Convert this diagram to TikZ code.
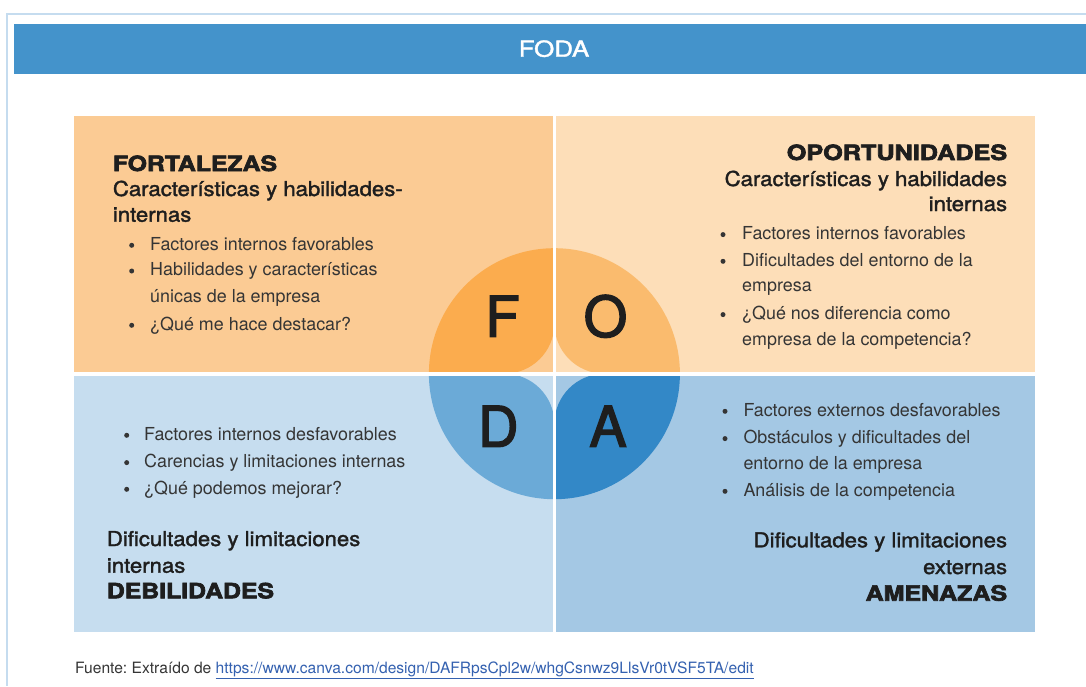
\documentclass[tikz,border=0pt]{standalone}
\usepackage{fontspec}
\usepackage{graphicx}
\setmainfont{TeX Gyre Heros}
\newfontfamily\hvblack{TeX Gyre Heros}[BoldFeatures={FakeBold=3}]
\newfontfamily\hvmed{TeX Gyre Heros}[FakeBold=1.6]
\newfontfamily\hvbig{TeX Gyre Heros}[FakeBold=2.5]
\definecolor{framec}{HTML}{C5DCEF}
\definecolor{hdr}{HTML}{4493CB}
\definecolor{tlbg}{HTML}{FBCB94}
\definecolor{fpet}{HTML}{FBAC4E}
\definecolor{trbg}{HTML}{FDDEB8}
\definecolor{opet}{HTML}{FABB6E}
\definecolor{blbg}{HTML}{C6DDEF}
\definecolor{dpet}{HTML}{6BAAD7}
\definecolor{brbg}{HTML}{A4C8E4}
\definecolor{apet}{HTML}{3388C7}
\definecolor{ink}{HTML}{1E1E1E}
\definecolor{txt}{HTML}{353535}
\definecolor{linkc}{HTML}{3461B0}
\frenchspacing
\begin{document}
\begin{tikzpicture}[x=1pt,y=-1pt,
  hd/.style={inner sep=0pt, text=ink, font=\hvblack\bfseries\fontsize{21}{21}\selectfont},
  sub/.style={inner sep=0pt, text=ink, font=\hvmed\fontsize{20.5}{20.5}\selectfont},
  item/.style={inner sep=0pt, text=txt, anchor=base west, font=\fontsize{17.9}{17.9}\selectfont},
  big/.style={inner sep=0pt, text=ink, anchor=base, font=\hvbig\fontsize{56}{56}\selectfont},
  dot/.style={fill=txt}]
\useasboundingbox (0,0) rectangle (1086,686);
\fill[white] (0,0) rectangle (1086,686);
% frame
\draw[framec, line width=2pt] (1086,14.3) -- (7,14.3) -- (7,686);
% header
\fill[hdr] (14,24) rectangle (1086,73.7);
\node[inner sep=0pt, anchor=base, text=white, font=\hvmed\fontsize{22}{22}\selectfont] (title) at (554,56.7) {\scalebox{1.18}[1]{FODA}};
% quadrants
\fill[tlbg] (74,116) rectangle (552.7,371.7);
\fill[trbg] (556,116) rectangle (1035,371.7);
\fill[blbg] (74,375.7) rectangle (552.7,631.7);
\fill[brbg] (556,375.7) rectangle (1035,631.7);
% petals
\def\cx{554.4}\def\cy{373.7}\def\R{125.5}\def\a{50}\def\k{27.6}
\fill[fpet] (\cx-\R,\cy) arc[start angle=180,end angle=270,radius=\R] -- (\cx,\cy-\a)
  .. controls (\cx,\cy-\a+\k) and (\cx-\a+\k,\cy) .. (\cx-\a,\cy) -- cycle;
\fill[opet] (\cx,\cy-\R) arc[start angle=270,end angle=360,radius=\R] -- (\cx+\a,\cy)
  .. controls (\cx+\a-\k,\cy) and (\cx,\cy-\a+\k) .. (\cx,\cy-\a) -- cycle;
\fill[apet] (\cx+\R,\cy) arc[start angle=0,end angle=90,radius=\R] -- (\cx,\cy+\a)
  .. controls (\cx,\cy+\a-\k) and (\cx+\a-\k,\cy) .. (\cx+\a,\cy) -- cycle;
\fill[dpet] (\cx,\cy+\R) arc[start angle=90,end angle=180,radius=\R] -- (\cx-\a,\cy)
  .. controls (\cx-\a+\k,\cy) and (\cx,\cy+\a-\k) .. (\cx,\cy+\a) -- cycle;
% white gaps
\fill[white] (552.7,110) rectangle (556,640);
\fill[white] (70,371.7) rectangle (1040,375.7);
% letters
\node[big] (lF) at (502.5,336.7) {F};
\node[big] (lO) at (605.5,336.7) {O};
\node[big] (lD) at (498.3,446.7) {D};
\node[big] (lA) at (608,446.7) {A};
% ---- top left
\node[hd, anchor=base west] (tlh) at (112.7,171) {\scalebox{1.18}[1]{FORTALEZAS}};
\node[sub, anchor=base west] (tls1) at (112.7,196) {\scalebox{1.08}[1]{Características y habilidades-}};
\node[sub, anchor=base west] (tls2) at (112.7,221.7) {\scalebox{1.08}[1]{internas}};
\fill[dot] (131.7,245.3) circle (2.5);
\node[item] (tli1) at (150,250) {Factores internos favorables};
\fill[dot] (131.7,271) circle (2.5);
\node[item] (tli2) at (150,275.7) {Habilidades y características};
\node[item] (tli3) at (150,302.7) {únicas de la empresa};
\fill[dot] (131.7,325.3) circle (2.5);
\node[item] (tli4) at (150,330) {¿Qué me hace destacar?};
% ---- top right
\node[hd, anchor=base east] (trh) at (1007.3,160) {\scalebox{1.2}[1]{OPORTUNIDADES}};
\node[sub, anchor=base east] (trs1) at (1007.3,186) {\scalebox{1.08}[1]{Características y habilidades}};
\node[sub, anchor=base east] (trs2) at (1007.3,211) {\scalebox{1.08}[1]{internas}};
\fill[dot] (723,234.6) circle (2.5);
\node[item] (tri1) at (742,239.3) {Factores internos favorables};
\fill[dot] (723,261.3) circle (2.5);
\node[item] (tri2) at (742,266) {Dificultades del entorno de la};
\node[item] (tri3) at (742,291.7) {empresa};
\fill[dot] (723,314.6) circle (2.5);
\node[item] (tri4) at (742,319.3) {¿Qué nos diferencia como};
\node[item] (tri5) at (742,345) {empresa de la competencia?};
% ---- bottom left
\fill[dot] (126.7,435.3) circle (2.5);
\node[item] (bli1) at (144,440) {Factores internos desfavorables};
\fill[dot] (126.7,462.6) circle (2.5);
\node[item] (bli2) at (144,467.3) {Carencias y limitaciones internas};
\fill[dot] (126.7,489.3) circle (2.5);
\node[item] (bli3) at (144,494) {¿Qué podemos mejorar?};
\node[sub, anchor=base west] (bls1) at (106.7,546) {\scalebox{1.08}[1]{Dificultades y limitaciones}};
\node[sub, anchor=base west] (bls2) at (106.7,572.7) {\scalebox{1.08}[1]{internas}};
\node[hd, anchor=base west] (blh) at (106.7,598.3) {\scalebox{1.18}[1]{DEBILIDADES}};
% ---- bottom right
\fill[dot] (725,411.3) circle (2.5);
\node[item] (bri1) at (743.3,416) {Factores externos desfavorables};
\fill[dot] (725,438.6) circle (2.5);
\node[item] (bri2) at (743.3,443.3) {Obstáculos y dificultades del};
\node[item] (bri3) at (743.3,469) {entorno de la empresa};
\fill[dot] (725,491.3) circle (2.5);
\node[item] (bri4) at (743.3,496) {Análisis de la competencia};
\node[sub, anchor=base east] (brs1) at (1007.3,547.3) {\scalebox{1.08}[1]{Dificultades y limitaciones}};
\node[sub, anchor=base east] (brs2) at (1007.3,574) {\scalebox{1.08}[1]{externas}};
\node[hd, anchor=base east] (brh) at (1007.3,600.7) {\scalebox{1.19}[1]{AMENAZAS}};
% footer
\node[inner sep=0pt, anchor=base west, text=txt, font=\fontsize{15.6}{15.6}\selectfont] (src) at (75,673.5)
  {Fuente: Extraído de \textcolor{linkc}{\underline{https://www.canva.com/design/DAFRpsCpl2w/whgCsnwz9LlsVr0tVSF5TA/edit}}};
\end{tikzpicture}
\end{document}
